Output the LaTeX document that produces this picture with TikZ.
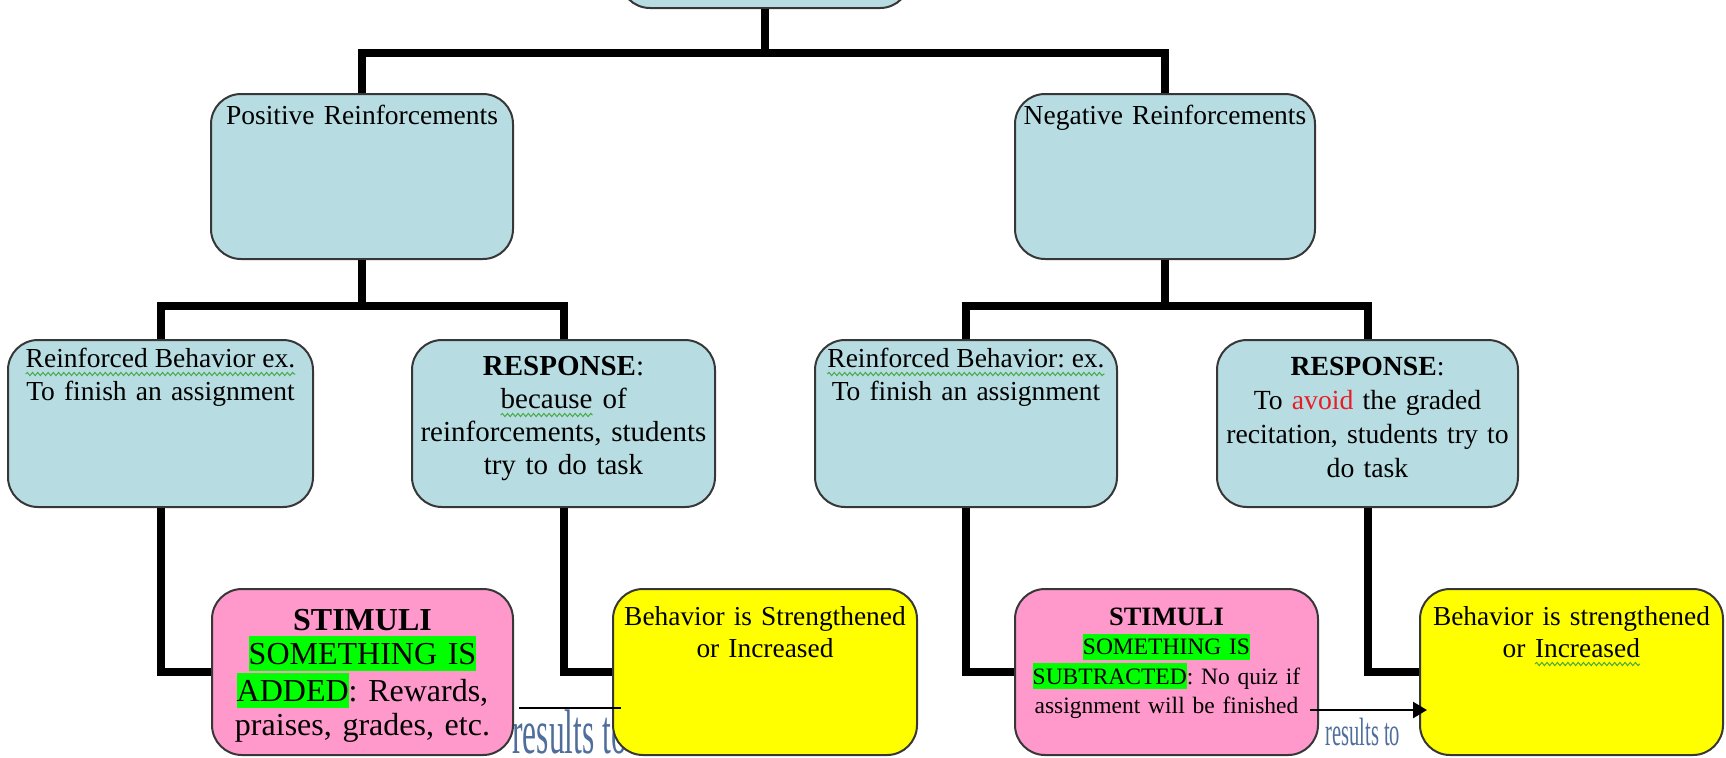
\documentclass[tikz,border=0pt]{standalone}
\usepackage{fontspec}
\setmainfont{Liberation Serif}
\usetikzlibrary{arrows.meta,decorations.pathmorphing}
\definecolor{boxblue}{RGB}{183,221,226}
\definecolor{boxpink}{RGB}{255,153,204}
\definecolor{boxyellow}{RGB}{255,255,0}
\definecolor{hlgreen}{RGB}{0,255,0}
\definecolor{wordred}{RGB}{230,30,40}
\definecolor{resblue}{RGB}{80,110,155}
\definecolor{spellgreen}{RGB}{70,170,70}
\definecolor{edgegray}{RGB}{55,55,55}
\frenchspacing
\newcommand\hlg[1]{{\setlength{\fboxsep}{0pt}\colorbox{hlgreen}{\rule[-0.216em]{0pt}{1.107em}#1}}}
\newcommand\gwave[1]{\tikz[baseline=(gw.base)]{\node[inner sep=0pt, outer sep=0pt] (gw) {#1};
  \draw[spellgreen, line width=0.5pt, decorate, decoration={snake, amplitude=0.8pt, segment length=2.6pt}] ([yshift=-3.5pt]gw.base west) -- ([yshift=-3.5pt]gw.base east);}}
\begin{document}
\begin{tikzpicture}[x=0.5pt,y=-0.5pt,
  boxbase/.style={draw=edgegray, line width=1pt, rounded corners=15pt, inner sep=0pt},
  bluebox/.style={boxbase, fill=boxblue},
  pinkbox/.style={boxbase, fill=boxpink},
  yellowbox/.style={boxbase, fill=boxyellow},
  conn/.style={line width=4pt, black, line join=miter},
  thinline/.style={line width=1.2pt, black},
  txt/.style={anchor=base, inner sep=0pt, text width=150pt, align=center},
  restxt/.style={anchor=base west, inner sep=0pt, text=resblue}]
\useasboundingbox (0,0) rectangle (1726,757);
\clip (0,0) rectangle (1726,757);

% "results to" labels (behind the boxes)
\node[restxt] (res1) at (512,753) {\fontsize{31.5pt}{32pt}\selectfont\scalebox{0.5}[1]{results to}};
\node[restxt] (res2) at (1325,745) {\fontsize{19.75pt}{20pt}\selectfont\scalebox{0.52}[1]{results to}};

% boxes
\node[bluebox, minimum width=145pt, minimum height=44pt] (top) at (765,-36) {};
\node[bluebox, minimum width=151pt, minimum height=82.5pt] (pr) at (362,176.5) {};
\node[bluebox, minimum width=150pt, minimum height=82.5pt] (nr) at (1165,176.5) {};
\node[bluebox, minimum width=152.5pt, minimum height=83.5pt] (rb1) at (160.5,423.5) {};
\node[bluebox, minimum width=151.5pt, minimum height=83.5pt] (rs1) at (563.5,423.5) {};
\node[bluebox, minimum width=151pt, minimum height=83.5pt] (rb2) at (966,423.5) {};
\node[bluebox, minimum width=150.5pt, minimum height=83.5pt] (rs2) at (1367.5,423.5) {};
\node[pinkbox, minimum width=150.5pt, minimum height=83pt] (st1) at (362.5,672) {};
\node[yellowbox, minimum width=152pt, minimum height=83pt] (bh1) at (765,672) {};
\node[pinkbox, minimum width=151.5pt, minimum height=83pt] (st2) at (1166.5,672) {};
\node[yellowbox, minimum width=151.5pt, minimum height=83pt] (bh2) at (1571.5,672) {};

% thick connectors
\coordinate (j0) at (765,53);
\draw[conn] (top.south) -- (j0);
\draw[conn] (pr.north) |- (j0) -| (nr.north);
\coordinate (j1) at (362,306);
\draw[conn] (pr.south) -- (j1);
\draw[conn] (rb1.north) |- (j1) -| (rs1.north);
\coordinate (j2) at (1165,306);
\draw[conn] (nr.south) -- (j2);
\draw[conn] (rb2.north) |- (j2) -| (rs2.north);
\draw[conn] (rb1.south) |- (st1.west);
\draw[conn] (rs1.south) |- (bh1.west);
\draw[conn] (rb2.south) |- (st2.west);
\draw[conn] (rs2.south) |- (bh2.west);

% texts
\node[txt, font=\fontsize{13.75pt}{16.5pt}\selectfont] (prt) at (362,124) {Positive Reinforcements};
\node[txt, font=\fontsize{13.75pt}{16.5pt}\selectfont] (nrt) at (1165,124) {Negative Reinforcements};
\node[txt, font=\fontsize{13.75pt}{16.5pt}\selectfont] (rb1t) at (160.5,367) {\gwave{Reinforced Behavior ex.}\\To finish an assignment};
\node[txt, font=\fontsize{14.5pt}{16.5pt}\selectfont] (rs1t) at (563.5,375) {\textbf{RESPONSE}:\\\gwave{because} of\\reinforcements, students\\try to do task};
\node[txt, font=\fontsize{13.75pt}{16.5pt}\selectfont] (rb2t) at (966,367) {\gwave{Reinforced Behavior: ex.}\\To finish an assignment};
\node[txt, font=\fontsize{13.85pt}{17pt}\selectfont] (rs2t) at (1367.5,375) {\textbf{RESPONSE}:\\To \textcolor{wordred}{avoid} the graded\\recitation, students try to\\do task};
\node[txt, font=\fontsize{16pt}{17pt}\selectfont] (st1t) at (362.5,630) {\textbf{STIMULI}\\\hlg{SOMETHING IS}\\\hlg{ADDED}: Rewards,\\praises, grades, etc.};
\node[txt, font=\fontsize{11.75pt}{14.75pt}\selectfont] (st2t) at (1166.5,625) {{\fontsize{13.25pt}{14.75pt}\selectfont\textbf{STIMULI}}\\\hlg{SOMETHING IS}\\\hlg{SUBTRACTED}: No quiz if\\assignment will be finished};
\node[txt, font=\fontsize{13.7pt}{16pt}\selectfont] (bh1t) at (765,625) {Behavior is Strengthened\\or Increased};
\node[txt, font=\fontsize{13.7pt}{16pt}\selectfont] (bh2t) at (1571.5,625) {Behavior is strengthened\\or \gwave{Increased}};

% thin "results to" connectors
\coordinate (ya) at (0,708);
\coordinate (yb) at (0,710);
\draw[thinline, shorten <=2.5pt, shorten >=-4.5pt] (st1.east |- ya) -- (bh1.west |- ya);
\draw[thinline, shorten <=-4.5pt, shorten >=-4pt, -{Triangle[length=7pt,width=8pt]}] (st2.east |- yb) -- (bh2.west |- yb);
\end{tikzpicture}
\end{document}
